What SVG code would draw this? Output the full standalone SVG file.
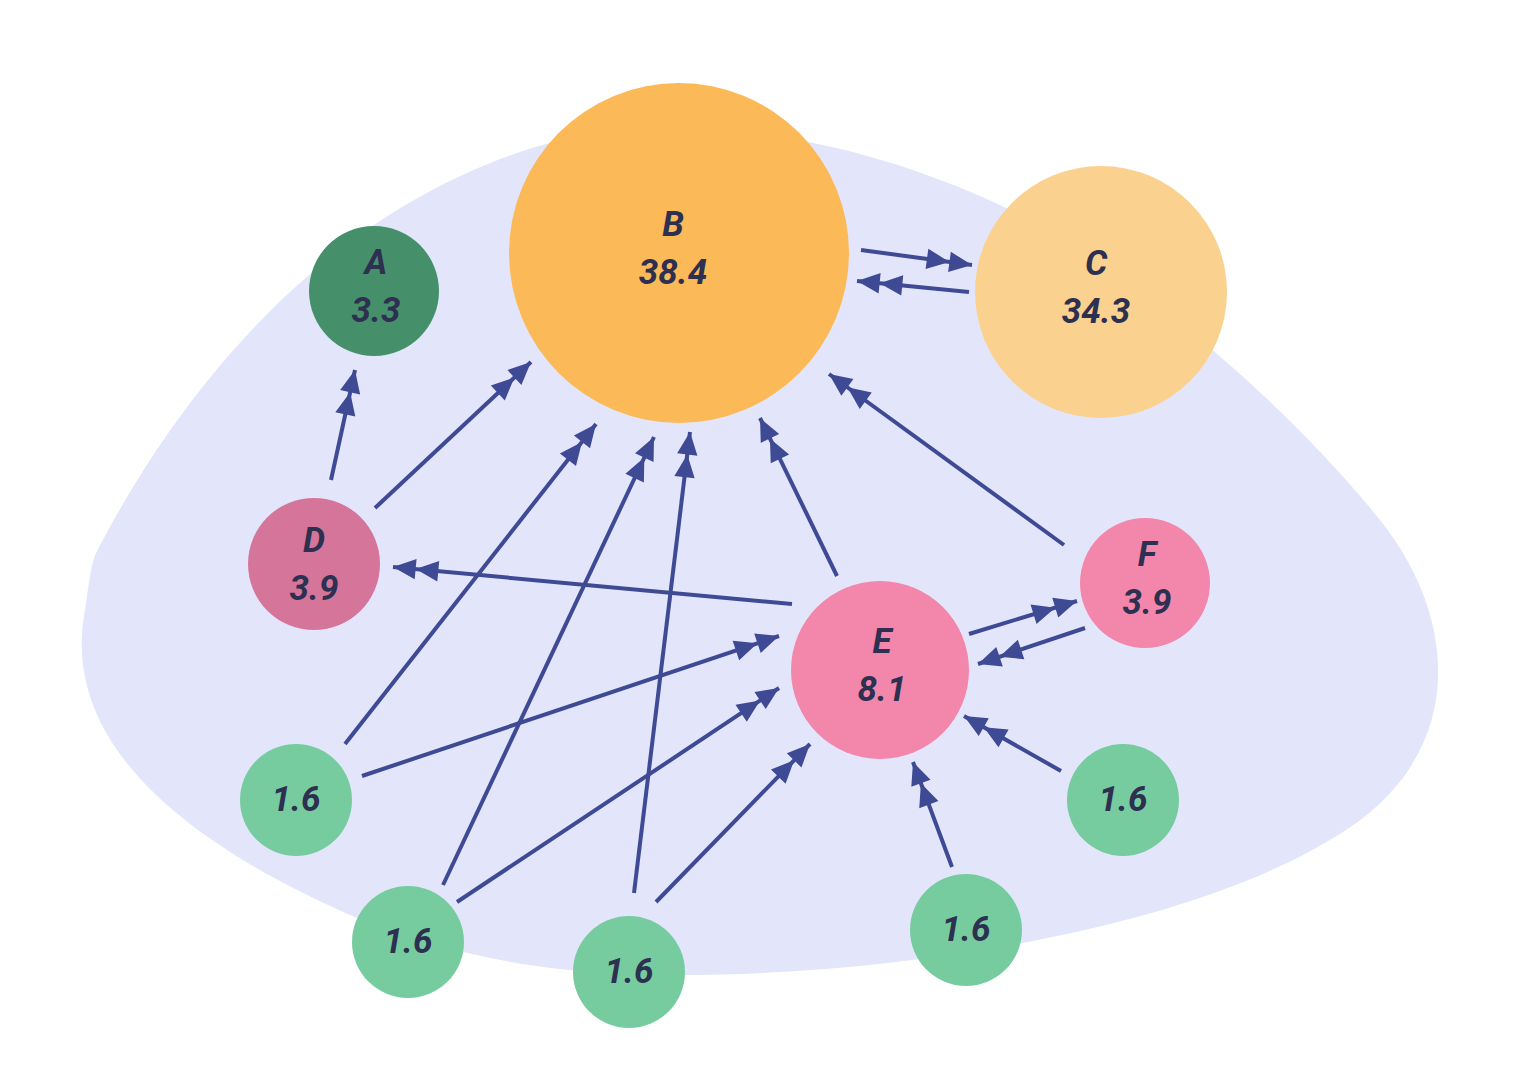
<svg xmlns="http://www.w3.org/2000/svg" width="1536" height="1083" viewBox="0 0 1536 1083">
<style>
.l{stroke:#3f4a94;stroke-width:4;fill:none;marker-end:url(#m)}
text{font-family:Roboto,"Liberation Sans",sans-serif;font-weight:bold;font-style:italic;font-size:35px;fill:#2d3050;text-anchor:middle}
.g{fill:#76cc9f}
</style>
<defs><marker id="m" markerUnits="userSpaceOnUse" markerWidth="50" markerHeight="30" viewBox="-42 -12 44 24" refX="0" refY="0" orient="auto"><path d="M-20,-9 L0,0 L-20,9Z M-40,-9 L-20,0 L-40,9Z" fill="#3f4a94"/></marker></defs>
<rect width="1536" height="1083" fill="#fff"/>
<path d="M95,555 C180,390 330,200 560,140 C700,110 860,140 1000,205 C1150,280 1300,420 1380,520 C1460,620 1470,760 1330,840 C1180,930 900,975 680,975 C540,975 450,955 350,915 C180,840 60,740 85,610 C88,590 90,570 95,555Z" fill="#e3e6fb"/>
<g id="connectors">
<line class="l" x1="861" y1="250" x2="972" y2="265"/>
<line class="l" x1="969" y1="292" x2="857" y2="281"/>
<line class="l" x1="331" y1="480" x2="355" y2="370"/>
<line class="l" x1="375" y1="508" x2="531" y2="362"/>
<line class="l" x1="792" y1="604" x2="393" y2="567"/>
<line class="l" x1="837" y1="576" x2="760" y2="418"/>
<line class="l" x1="1064" y1="545" x2="829" y2="374"/>
<line class="l" x1="969" y1="634" x2="1077" y2="601"/>
<line class="l" x1="1085" y1="628" x2="978" y2="664"/>
<line class="l" x1="345" y1="744" x2="596" y2="424"/>
<line class="l" x1="362" y1="776" x2="779" y2="636"/>
<line class="l" x1="443" y1="885" x2="654" y2="437"/>
<line class="l" x1="457" y1="902" x2="779" y2="688"/>
<line class="l" x1="634" y1="893" x2="690" y2="432"/>
<line class="l" x1="656" y1="902" x2="810" y2="744"/>
<line class="l" x1="952" y1="867" x2="913" y2="762"/>
<line class="l" x1="1061" y1="771" x2="964" y2="716"/>
</g>
<g id="A"><circle cx="374" cy="291" r="65" fill="#458f6a"/><text x="376" y="274">A</text><text x="376" y="322">3.3</text></g>
<g id="B"><circle cx="679" cy="253" r="170" fill="#fbb957"/><text x="673" y="236">B</text><text x="673" y="284">38.4</text></g>
<g id="C"><circle cx="1101" cy="292" r="126" fill="#fad18f"/><text x="1096" y="275">C</text><text x="1096" y="323">34.3</text></g>
<g id="D"><circle cx="314" cy="564" r="66" fill="#d5759a"/><text x="314" y="552">D</text><text x="314" y="600">3.9</text></g>
<g id="E"><circle cx="880" cy="670" r="89" fill="#f386ab"/><text x="882" y="653">E</text><text x="882" y="701">8.1</text></g>
<g id="F"><circle cx="1145" cy="583" r="65" fill="#f386ab"/><text x="1147" y="566">F</text><text x="1147" y="614">3.9</text></g>
<g id="G1"><circle class="g" cx="296" cy="800" r="56"/><text x="296" y="811">1.6</text></g>
<g id="G2"><circle class="g" cx="408" cy="942" r="56"/><text x="408" y="953">1.6</text></g>
<g id="G3"><circle class="g" cx="629" cy="972" r="56"/><text x="629" y="983">1.6</text></g>
<g id="G4"><circle class="g" cx="966" cy="930" r="56"/><text x="966" y="941">1.6</text></g>
<g id="G5"><circle class="g" cx="1123" cy="800" r="56"/><text x="1123" y="811">1.6</text></g>
</svg>
